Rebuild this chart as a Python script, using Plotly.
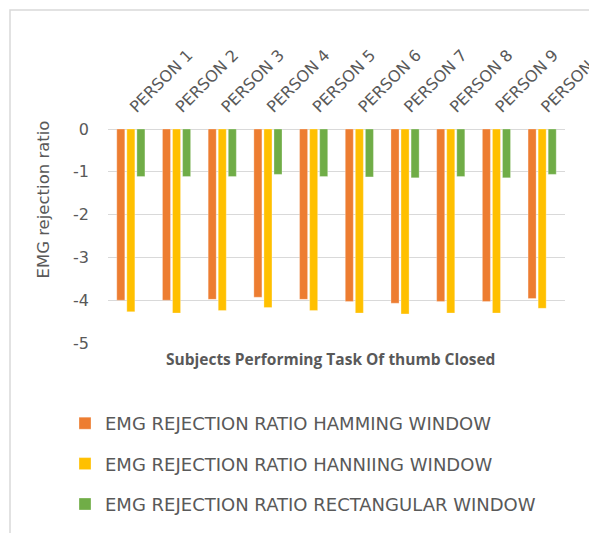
import plotly.graph_objects as go

persons = ["PERSON 1", "PERSON 2", "PERSON 3", "PERSON 4", "PERSON 5",
           "PERSON 6", "PERSON 7", "PERSON 8", "PERSON 9", "PERSON 10"]
hamming = [-4.00, -4.00, -3.98, -3.93, -3.98, -4.03, -4.07, -4.03, -4.03, -3.96]
hanning = [-4.27, -4.30, -4.24, -4.17, -4.24, -4.30, -4.32, -4.30, -4.30, -4.19]
rectangular = [-1.11, -1.11, -1.11, -1.06, -1.11, -1.12, -1.14, -1.11, -1.14, -1.06]

series_names = ["EMG REJECTION RATIO HAMMING WINDOW",
                "EMG REJECTION RATIO HANNIING WINDOW",
                "EMG REJECTION RATIO RECTANGULAR WINDOW"]
series_values = [hamming, hanning, rectangular]
colors = ["#ED7D31", "#FFC000", "#70AD47"]

y_ticks = [0, -1, -2, -3, -4, -5]
y_tick_text = ["0", "-1", "-2", "-3", "-4", "-5"]

FONT = "DejaVu Sans"
TITLE_FONT = "Open Sans"
GREY = "#595959"

# plot-area geometry in pixels (used for placing the frame, legend and titles)
W, H = 589, 533
L, R, T, B = 108, 24, 129, 190
PW, PH = W - L - R, H - T - B


def px_x(x):
    return (x - L) / PW


def px_y(y):
    return (H - B - y) / PH


fig = go.Figure()
for i, (name, vals, col) in enumerate(zip(series_names, series_values, colors)):
    fig.add_trace(go.Bar(
        x=persons, y=vals, name=name, legendgroup=f"g{i}",
        marker=dict(color=col, line=dict(color="rgba(255,255,255,0.6)", width=0.5)),
    ))

fig.update_layout(
    width=W, height=H,
    margin=dict(l=L, r=R, t=T, b=B, autoexpand=False),
    paper_bgcolor="white", plot_bgcolor="white",
    barmode="group", bargap=0.34, bargroupgap=0.2,
    font=dict(family=FONT, color=GREY),
    showlegend=True,
    legend=dict(
        orientation="v",
        x=px_x(65), y=px_y(405), xanchor="left", yanchor="top",
        font=dict(family=FONT, size=18, color=GREY),
        tracegroupgap=14, itemwidth=30, bgcolor="rgba(0,0,0,0)",
    ),
    xaxis=dict(
        side="top", tickangle=-45, showgrid=False, showline=False, zeroline=False,
        ticks="", ticklabelstandoff=9, automargin=False,
        tickfont=dict(family=FONT, size=16, color=GREY),
    ),
    yaxis=dict(
        range=[-5, 0], tickvals=y_ticks, ticktext=y_tick_text,
        showgrid=True, gridcolor="#D9D9D9", gridwidth=1,
        zeroline=True, zerolinecolor="#D9D9D9", zerolinewidth=1,
        showline=False, ticks="", ticklabelstandoff=18, automargin=False,
        tickfont=dict(family=FONT, size=16, color=GREY),
    ),
    annotations=[
        dict(text="<b>Subjects Performing Task Of thumb Closed</b>",
             xref="paper", yref="paper", x=px_x(330), y=px_y(359),
             xanchor="center", yanchor="middle", showarrow=False,
             font=dict(family=TITLE_FONT, size=15.5, color=GREY)),
        dict(text="EMG rejection ratio", textangle=-90,
             xref="paper", yref="paper", x=px_x(42.5), y=px_y(200),
             xanchor="center", yanchor="middle", showarrow=False,
             font=dict(family=FONT, size=16.5, color=GREY)),
    ],
    shapes=[dict(
        type="rect", xref="paper", yref="paper",
        x0=px_x(10), x1=px_x(600), y0=px_y(545), y1=px_y(10),
        line=dict(color="#D9D9D9", width=1.5), fillcolor="rgba(0,0,0,0)", layer="below",
    )],
)

fig.write_html("out.html")
